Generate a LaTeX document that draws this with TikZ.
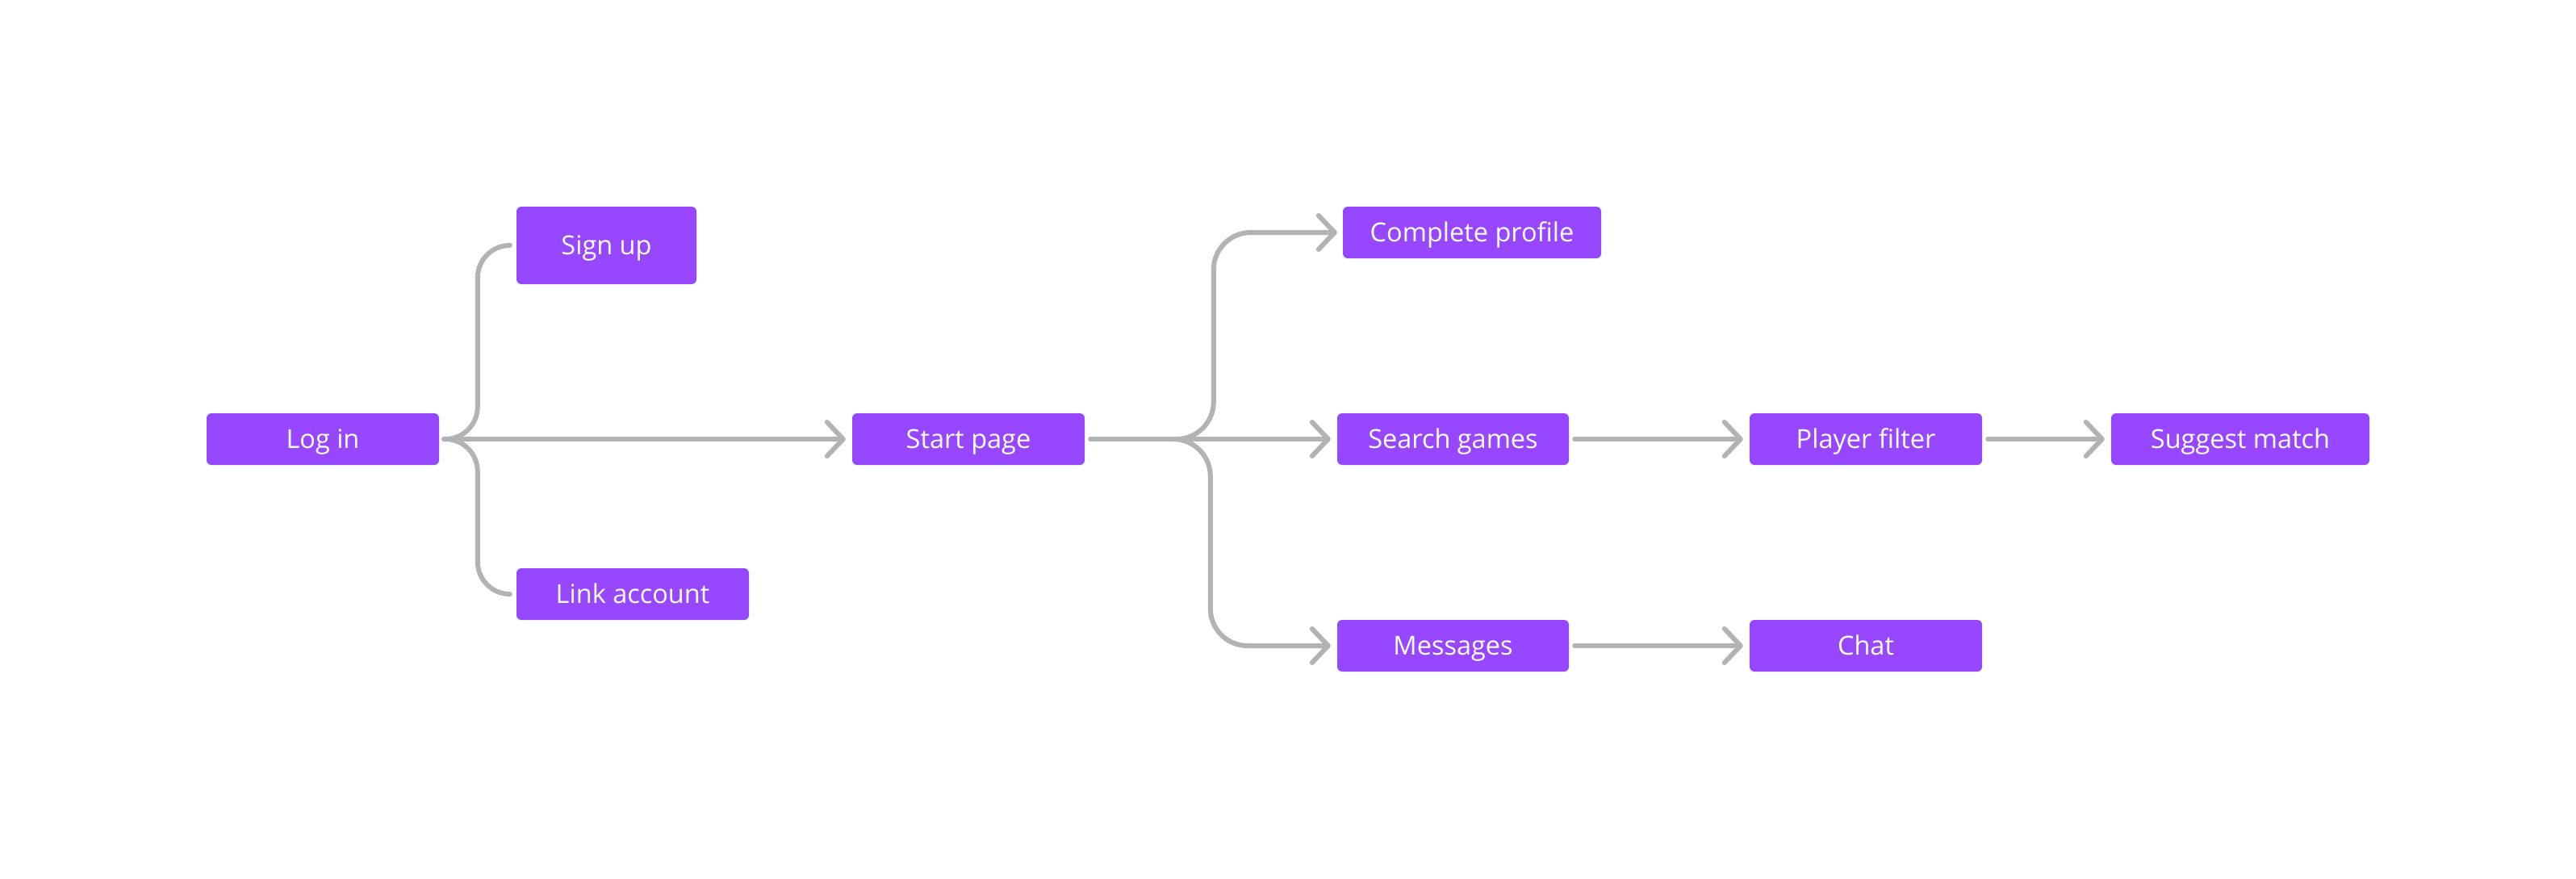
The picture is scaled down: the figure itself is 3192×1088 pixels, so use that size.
\documentclass[tikz,border=0pt]{standalone}
\usepackage{fontspec}
\setmainfont{Open Sans}
\usetikzlibrary{arrows.meta,calc}
\definecolor{boxpurple}{HTML}{9747FF}
\definecolor{linegray}{HTML}{B3B3B3}
\tikzset{
  box/.style={fill=boxpurple, rounded corners=6pt, text=white, inner sep=0pt,
    minimum height=64pt, text height=23pt, text depth=0pt,
    font=\fontsize{32.5}{38}\selectfont},
  conn/.style={draw=linegray, line width=6pt, line cap=round, line join=round},
  arr/.style={conn, -{Straight Barb[length=20pt,width=42pt,line cap=round,line join=round]}},
}
\begin{document}
\begin{tikzpicture}[x=1pt,y=-1pt]
\useasboundingbox (0,0) rectangle (3192,1088);
\node[box, minimum width=288pt] (login) at (400,544) {Log in};
\node[box, minimum width=223pt, minimum height=96pt] (signup) at (751.5,304) {Sign up};
\node[box, minimum width=288pt] (link) at (784,736) {Link account};
\node[box, minimum width=288pt] (start) at (1200,544) {Start page};
\node[box, minimum width=320pt] (profile) at (1824,288) {Complete profile};
\node[box, minimum width=287pt] (search) at (1800.5,544) {Search games};
\node[box, minimum width=287pt] (messages) at (1800.5,800) {Messages};
\node[box, minimum width=288pt] (filter) at (2312,544) {Player filter};
\node[box, minimum width=288pt] (chat) at (2312,800) {Chat};
\node[box, minimum width=320pt] (suggest) at (2776,544) {Suggest match};

\coordinate (j1) at ([xshift=6pt]login.east);
\coordinate (j2) at (1458,544);

% Log in branches
\draw[conn, rounded corners=40pt] (j1) -| ([xshift=-48pt]signup.west) -- ([xshift=-8pt]signup.west);
\draw[conn, rounded corners=40pt] (j1) -| ([xshift=-48pt]link.west) -- ([xshift=-8pt]link.west);
\draw[arr] (j1) -- ([xshift=-8pt]start.west);

% Start page branches
\draw[conn] ([xshift=7pt]start.east) -- (j2);
\draw[arr, rounded corners=46pt] (j2) -| ([xshift=-160pt]profile.west) -- ([xshift=-7pt]profile.west);
\draw[arr] (j2) -- ([xshift=-8pt]search.west);
\draw[arr, rounded corners=46pt] (j2) -| ([xshift=-157pt]messages.west) -- ([xshift=-8pt]messages.west);

% Chains
\draw[arr] ([xshift=7pt]search.east) -- ([xshift=-8pt]filter.west);
\draw[arr] ([xshift=7pt]filter.east) -- ([xshift=-8pt]suggest.west);
\draw[arr] ([xshift=7pt]messages.east) -- ([xshift=-8pt]chat.west);
\end{tikzpicture}
\end{document}
